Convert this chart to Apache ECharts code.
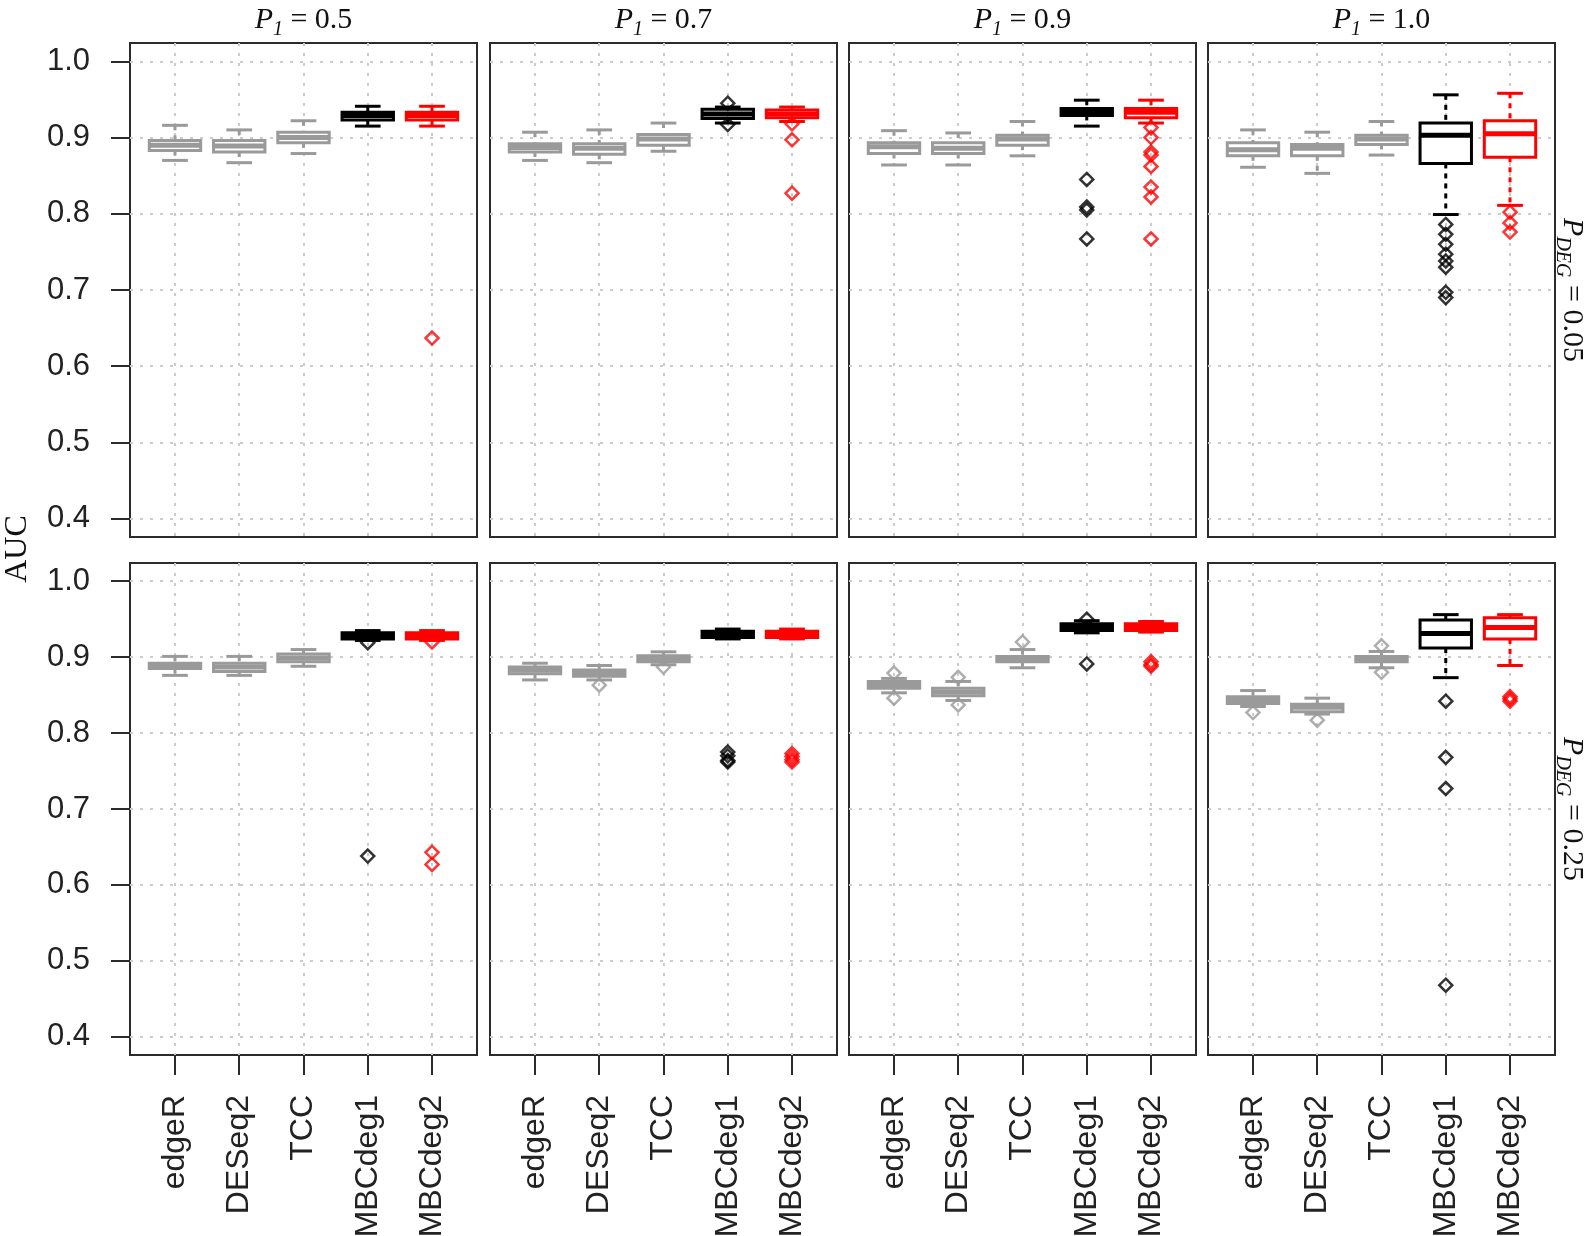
<!DOCTYPE html>
<html><head><meta charset="utf-8">
<script src="https://cdn.jsdelivr.net/npm/echarts@6/dist/echarts.min.js"></script>
<style>html,body{margin:0;padding:0;background:#fff}#c{width:1592px;height:1236px}</style>
</head><body><div id="c"></div>
<script>
// ---------------- data ----------------
const methods = ['edgeR', 'DESeq2', 'TCC', 'MBCdeg1', 'MBCdeg2'];
const methodColors = ['#9a9a9a', '#9a9a9a', '#9a9a9a', '#000000', '#ff0000'];
const p1Values = ['0.5', '0.7', '0.9', '1.0'];
const pdegValues = ['0.05', '0.25'];
const yTicks = [0.4, 0.5, 0.6, 0.7, 0.8, 0.9, 1.0];
const xTicks = [1, 2, 3, 4, 5];

// box stats per method: [lower whisker, Q1, median, Q3, upper whisker]
const box_d05_p05 = [[0.870,0.883,0.890,0.896,0.916],[0.867,0.881,0.889,0.896,0.910],[0.879,0.893,0.900,0.907,0.922],[0.915,0.923,0.929,0.933,0.941],[0.915,0.923,0.929,0.933,0.941]];
const box_d05_p07 = [[0.870,0.881,0.887,0.892,0.907],[0.867,0.878,0.886,0.892,0.910],[0.882,0.890,0.898,0.904,0.919],[0.919,0.925,0.931,0.937,0.940],[0.921,0.926,0.931,0.936,0.940]];
const box_d05_p09 = [[0.864,0.879,0.888,0.893,0.909],[0.864,0.879,0.886,0.893,0.906],[0.876,0.890,0.898,0.903,0.921],[0.915,0.929,0.934,0.938,0.949],[0.919,0.926,0.933,0.938,0.949]];
const box_d05_p10 = [[0.861,0.876,0.884,0.893,0.910],[0.853,0.876,0.886,0.891,0.907],[0.877,0.891,0.898,0.903,0.921],[0.799,0.866,0.903,0.919,0.956],[0.811,0.874,0.905,0.922,0.958]];
const box_d25_p05 = [[0.876,0.885,0.889,0.892,0.901],[0.876,0.881,0.887,0.892,0.901],[0.888,0.894,0.899,0.904,0.910],[0.922,0.924,0.928,0.932,0.935],[0.922,0.924,0.928,0.932,0.935]];
const box_d25_p07 = [[0.870,0.878,0.883,0.887,0.892],[0.870,0.875,0.879,0.883,0.889],[0.890,0.894,0.898,0.902,0.907],[0.924,0.926,0.930,0.934,0.937],[0.924,0.926,0.930,0.934,0.937]];
const box_d25_p09 = [[0.853,0.859,0.864,0.868,0.872],[0.843,0.849,0.854,0.859,0.868],[0.886,0.894,0.898,0.901,0.910],[0.932,0.935,0.940,0.944,0.948],[0.933,0.935,0.940,0.944,0.947]];
const box_d25_p10 = [[0.835,0.839,0.844,0.848,0.856],[0.825,0.828,0.834,0.838,0.846],[0.886,0.894,0.898,0.901,0.9075],[0.873,0.912,0.931,0.949,0.956],[0.889,0.924,0.939,0.952,0.956]];

// outliers: [method position (1..5), AUC]
const out_d05_p05 = [[5,0.637]];
const out_d05_p07 = [[4,0.945],[4,0.917],[5,0.918],[5,0.897],[5,0.827]];
const out_d05_p09 = [[4,0.845],[4,0.809],[4,0.805],[4,0.767],[5,0.913],[5,0.900],[5,0.881],[5,0.877],[5,0.862],[5,0.835],[5,0.822],[5,0.767]];
const out_d05_p10 = [[4,0.786],[4,0.773],[4,0.760],[4,0.747],[4,0.738],[4,0.730],[4,0.697],[4,0.690],[5,0.802],[5,0.788],[5,0.776]];
const out_d25_p05 = [[4,0.919],[4,0.638],[5,0.920],[5,0.643],[5,0.627]];
const out_d25_p07 = [[2,0.863],[3,0.887],[4,0.775],[4,0.770],[4,0.764],[4,0.762],[5,0.773],[5,0.769],[5,0.765],[5,0.762]];
const out_d25_p09 = [[1,0.879],[1,0.846],[2,0.8735],[2,0.837],[3,0.920],[4,0.950],[4,0.891],[5,0.894],[5,0.890],[5,0.888]];
const out_d25_p10 = [[1,0.827],[2,0.817],[3,0.915],[3,0.880],[4,0.842],[4,0.768],[4,0.727],[4,0.468],[5,0.848],[5,0.845],[5,0.842]];

const panelBoxes = [[box_d05_p05, box_d05_p07, box_d05_p09, box_d05_p10],
                    [box_d25_p05, box_d25_p07, box_d25_p09, box_d25_p10]];
const panelOutliers = [[out_d05_p05, out_d05_p07, out_d05_p09, out_d05_p10],
                       [out_d25_p05, out_d25_p07, out_d25_p09, out_d25_p10]];

// ---------------- layout ----------------
const colLeft = [130, 490, 849, 1208];
const colWidth = 347;
const rowTop = [43, 563];
const rowHeight = [494, 492];
const serif = 'Liberation Serif';
const sans = 'Liberation Sans';

const grids = [], xAxes = [], yAxes = [], series = [], graphics = [];

function renderBox(params, api) {
  const x = api.value(0);
  const color = methodColors[Math.round(x) - 1];
  const lo = api.coord([x, api.value(1)]);
  const q1 = api.coord([x, api.value(2)]);
  const md = api.coord([x, api.value(3)]);
  const q3 = api.coord([x, api.value(4)]);
  const hi = api.coord([x, api.value(5)]);
  const bl = api.coord([x - 0.4, api.value(3)])[0];
  const br = api.coord([x + 0.4, api.value(3)])[0];
  const cl = api.coord([x - 0.2, api.value(3)])[0];
  const cr = api.coord([x + 0.2, api.value(3)])[0];
  const cx = lo[0];
  const dashed = {stroke: color, lineWidth: 3, lineDash: [5, 5]};
  const solid = {stroke: color, lineWidth: 3};
  return {type: 'group', children: [
    {type: 'line', shape: {x1: cx, y1: hi[1], x2: cx, y2: q3[1]}, style: dashed},
    {type: 'line', shape: {x1: cx, y1: q1[1], x2: cx, y2: lo[1]}, style: dashed},
    {type: 'line', shape: {x1: cl, y1: hi[1], x2: cr, y2: hi[1]}, style: solid},
    {type: 'line', shape: {x1: cl, y1: lo[1], x2: cr, y2: lo[1]}, style: solid},
    {type: 'rect', shape: {x: bl, y: q3[1], width: br - bl, height: q1[1] - q3[1]}, style: {fill: '#ffffff', stroke: color, lineWidth: 3}},
    {type: 'line', shape: {x1: bl, y1: md[1], x2: br, y2: md[1]}, style: {stroke: color, lineWidth: 5}}
  ]};
}

let k = 0;
for (let r = 0; r < 2; r++) {
  for (let c = 0; c < 4; c++) {
    grids.push({left: colLeft[c], top: rowTop[r], width: colWidth, height: rowHeight[r],
      outerBoundsMode: 'none',
      show: true, borderColor: '#2b2b2b', borderWidth: 2, backgroundColor: 'transparent', containLabel: false});
    xAxes.push({type: 'value', gridIndex: k, min: 0.3, max: 5.7,
      axisLine: {show: false},
      axisTick: {show: r === 1, customValues: xTicks, length: 20, lineStyle: {color: '#2b2b2b', width: 2}},
      axisLabel: {show: r === 1, customValues: xTicks, rotate: 90, margin: 40, hideOverlap: false,
        formatter: v => methods[Math.round(v) - 1], fontFamily: sans, fontSize: 32, color: '#222222'},
      splitLine: {show: true, lineStyle: {color: '#cccccc', width: 2, type: [3, 7]}}
    });
    yAxes.push({type: 'value', gridIndex: k, min: 0.376, max: 1.024,
      axisLine: {show: false},
      axisTick: {show: c === 0, customValues: yTicks, length: 19, lineStyle: {color: '#2b2b2b', width: 2}},
      axisLabel: {show: c === 0, customValues: yTicks, margin: 40, formatter: v => v.toFixed(1),
        fontFamily: sans, fontSize: 31, color: '#222222'},
      splitLine: {show: true, lineStyle: {color: '#cccccc', width: 2, type: [3, 7]}}
    });
    const boxes = panelBoxes[r][c].map((b, i) => [xTicks[i]].concat(b));
    series.push({type: 'custom', xAxisIndex: k, yAxisIndex: k, renderItem: renderBox,
      encode: {x: 0, y: [1, 2, 3, 4, 5]}, data: boxes, clip: false, z: 3, silent: true});
    series.push({type: 'scatter', xAxisIndex: k, yAxisIndex: k, symbol: 'diamond', symbolSize: 13, z: 4, silent: true,
      data: panelOutliers[r][c].map(o => ({value: o, itemStyle: {color: 'rgba(0,0,0,0)', borderColor: methodColors[o[0] - 1], borderWidth: 2.5}}))});
    k++;
  }
}

// column titles
for (let c = 0; c < 4; c++) {
  graphics.push({type: 'text', x: colLeft[c] + colWidth / 2, y: 20, silent: true,
    style: {text: '{p|P}{s|1}{n| = ' + p1Values[c] + '}', align: 'center', verticalAlign: 'middle',
      textAlign: 'center', textVerticalAlign: 'middle', fill: '#111',
      rich: {p: {fontFamily: serif, fontStyle: 'italic', fontSize: 30, lineHeight: 40, fill: '#111'},
             s: {fontFamily: serif, fontStyle: 'italic', fontSize: 20, lineHeight: 20, verticalAlign: 'bottom', fill: '#111'},
             n: {fontFamily: serif, fontSize: 30, lineHeight: 40, fill: '#111'}}}});
}
// row strips
for (let r = 0; r < 2; r++) {
  graphics.push({type: 'text', x: 1572, y: rowTop[r] + rowHeight[r] / 2, rotation: -Math.PI / 2, silent: true,
    style: {text: '{p|P}{s|DEG}{n| = ' + pdegValues[r] + '}', align: 'center', verticalAlign: 'middle',
      textAlign: 'center', textVerticalAlign: 'middle', fill: '#111',
      rich: {p: {fontFamily: serif, fontStyle: 'italic', fontSize: 30, lineHeight: 40, fill: '#111'},
             s: {fontFamily: serif, fontStyle: 'italic', fontSize: 20, lineHeight: 20, verticalAlign: 'bottom', fill: '#111'},
             n: {fontFamily: serif, fontSize: 30, lineHeight: 40, fill: '#111'}}}});
}
graphics.push({type: 'text', x: 18, y: 549, rotation: Math.PI / 2, silent: true,
  style: {text: 'AUC', font: '32px "Liberation Serif"', align: 'center', verticalAlign: 'middle',
    textAlign: 'center', textVerticalAlign: 'middle', fill: '#111'}});

const chart = echarts.init(document.getElementById('c'), null, {renderer: 'canvas'});
chart.setOption({
  animation: false,
  backgroundColor: '#ffffff',
  grid: grids, xAxis: xAxes, yAxis: yAxes, series: series, graphic: graphics
});
</script></body></html>
